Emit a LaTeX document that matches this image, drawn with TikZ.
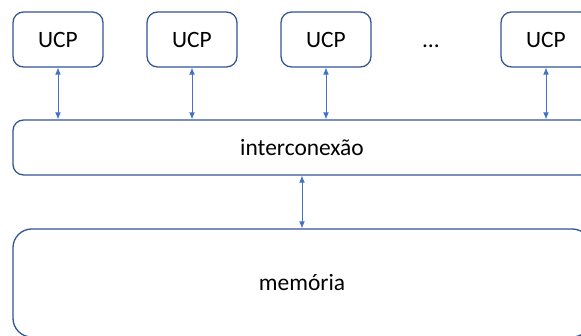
\documentclass[tikz,border=0pt]{standalone}
\usepackage{fontspec}
\setmainfont{Carlito}
\usepackage{xcolor}
\usetikzlibrary{arrows.meta, positioning}

\definecolor{boxblue}{HTML}{2F5597}
\definecolor{linkblue}{HTML}{4472C4}

\begin{document}
\begin{tikzpicture}[x=0.03cm, y=0.03cm, >={Latex[length=6pt,width=5pt]},
    font=\fontsize{20}{24}\selectfont,
    cpu/.style={draw=boxblue, line width=1.1pt, rounded corners=9pt, inner sep=0pt,
        minimum width=2.7cm, minimum height=1.65cm},
    block/.style={draw=boxblue, line width=1.1pt, rounded corners=9pt, inner sep=0pt,
        minimum width=17.34cm},
    link/.style={<->, draw=linkblue, fill=linkblue, line width=0.8pt}]

\useasboundingbox (0,0) rectangle (581,336);
\clip (0,0) rectangle (581,336);

% processors
\node[cpu] (ucp1) at (58,296.5) {UCP};
\node[cpu] (ucp2) at (192,296.5) {UCP};
\node[cpu] (ucp3) at (326,296.5) {UCP};
\node[cpu] (ucpn) at (546,296.5) {UCP};
\node[anchor=base, inner sep=0pt] (dots) at ([xshift=3.15cm]ucp3.base) {\dots};

% bus and memory
\node[block, minimum height=1.65cm] (inter) at (302,188.5) {interconexão};
\node[block, minimum height=3.24cm, rounded corners=16pt] (mem) at (302,53) {memória};

\foreach \u in {ucp1, ucp2, ucp3, ucpn}
    \draw[link] (\u.south) -- (\u.south |- inter.north);
\draw[link] (inter.south) -- (mem.north);
\end{tikzpicture}
\end{document}
